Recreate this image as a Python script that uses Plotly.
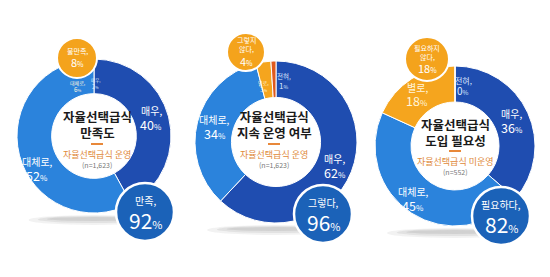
import math
import plotly.graph_objects as go

FONT = "Noto Sans CJK KR"

# ---- data ----
labels1 = ["매우", "대체로", "대체로", "매우"]
values1 = [40, 52, 6, 2]
labels2 = ["매우", "대체로", "별로", "전혀"]
values2 = [62, 34, 3, 1]
labels3 = ["매우", "대체로", "별로", "전혀"]
values3 = [36, 45, 18, 0]

titles = ["자율선택급식<br>만족도", "자율선택급식<br>지속 운영 여부", "자율선택급식<br>도입 필요성"]
subtitles = ["자율선택급식 운영", "자율선택급식 운영", "자율선택급식 미운영"]
samples = ["(n=1,623)", "(n=1,623)", "(n=552)"]
pos_labels = ["만족,", "그렇다,", "필요하다,"]
pos_values = [92, 96, 82]
neg_labels = [["불만족,"], ["그렇지", "않다,"], ["필요하지", "않다,"]]
neg_values = [8, 4, 18]

# ---- style ----
W, H = 550, 277
COLORS = ["#1f4db0", "#2b83dc", "#f5a51e", "#e05a1e"]
centers = [(94, 136, 77), (276, 142, 81), (455, 146, 80)]
text_centers = [(97, 125), (274, 125), (455, 132)]
pos_bub = [(145, 212, 29), (323, 214, 29), (501, 216, 29)]
neg_bub = [(77, 58, 20), (246, 52, 19), (427, 59, 22)]
lab_sizes = [[10, 10, 5, 4.5], [10, 10, 5, 6.5], [10, 10, 10, 8]]
lab_dx = [[0, -6, 0, 5], [0, 0, -4, 10], [0, -8, -4, 8]]
lab_rf = [[0.78, 0.78, 0.68, 0.68], [0.78, 0.78, 0.70, 0.76], [0.78, 0.78, 0.78, 0.76]]
lab_colors = ["white", "white", "#fff5dc", "#dce8ff"]

def px(x):
    return x / W

def py(y):
    return 1 - y / H

fig = go.Figure()
shapes = []
annotations = []

def ann(x, y, text, size, color, **kw):
    annotations.append(dict(x=px(x), y=py(y), xref="paper", yref="paper",
                            xanchor="center", yanchor="middle", text=text,
                            showarrow=False, font=dict(family=FONT, size=size, color=color), **kw))

def circle(cx, cy, r, fill, lc, lw, layer="above"):
    shapes.append(dict(type="circle", xref="paper", yref="paper",
                       x0=px(cx - r), x1=px(cx + r), y0=py(cy + r), y1=py(cy - r),
                       fillcolor=fill, line=dict(color=lc, width=lw), layer=layer))

for i, (labels, values) in enumerate([(labels1, values1), (labels2, values2), (labels3, values3)]):
    cx, cy, r = centers[i]
    for k, a in enumerate([0.08, 0.10, 0.12]):
        w = r * (0.85 - 0.12 * k)
        shapes.append(dict(type="circle", xref="paper", yref="paper",
                           x0=px(cx - w), x1=px(cx + w),
                           y0=py(cy + r + 12 - 2 * k), y1=py(cy + r + 2 + k),
                           fillcolor=f"rgba(90,90,90,{a})", line=dict(width=0), layer="below"))
    fig.add_trace(go.Pie(
        labels=labels, values=values, sort=False, direction="clockwise", rotation=0,
        hole=0.55, marker=dict(colors=COLORS, line=dict(color="white", width=1)),
        textinfo="none",
        domain=dict(x=[px(cx - r), px(cx + r)], y=[py(cy + r), py(cy - r)]),
        showlegend=False, hoverinfo="label+value",
    ))
    total = sum(values)
    cum = 0
    for j, (lab, v) in enumerate(zip(labels, values)):
        f = (cum + v / 2) / total
        cum += v
        th = 2 * math.pi * f
        rl = lab_rf[i][j] * r
        lx = cx + rl * math.sin(th) + lab_dx[i][j]
        ly = cy - rl * math.cos(th)
        s = lab_sizes[i][j]
        ann(lx, ly - 0.65 * s, f"{lab},", s, lab_colors[j])
        ann(lx, ly + 0.7 * s, f"{v}<span style='font-size:{s * 0.8:.1f}px'>%</span>",
            s * 1.25, lab_colors[j])
    tx, ty = text_centers[i]
    ann(tx, ty, f"<b>{titles[i]}</b>", 12.5, "#1a1a1a")
    shapes.append(dict(type="line", xref="paper", yref="paper",
                       x0=px(tx - 6), x1=px(tx + 6), y0=py(ty + 19), y1=py(ty + 19),
                       line=dict(color="#e8883a", width=2)))
    ann(tx, ty + 29, subtitles[i], 9, "#e0893a")
    ann(tx, ty + 40, samples[i], 7, "#777777")
    bx, by, br = pos_bub[i]
    circle(bx, by, br, "#1b62b8", "white", 2.5)
    ann(bx, by - 12, pos_labels[i], 10, "white")
    ann(bx, by + 8, f"{pos_values[i]}<span style='font-size:11px'>%</span>", 21, "white")
    bx, by, br = neg_bub[i]
    circle(bx, by, br, "#f4a31c", "white", 2)
    lines = neg_labels[i]
    n = len(lines)
    base = by - 7 - 4.5 * (n - 1)
    for k, t in enumerate(lines):
        ann(bx, base + 9 * k, t, 7, "white")
    ann(bx, base + 9 * n + 2.5, f"{neg_values[i]}<span style='font-size:7px'>%</span>", 11, "white")

fig.update_layout(width=W, height=H, margin=dict(l=0, r=0, t=0, b=0),
                  paper_bgcolor="white", plot_bgcolor="white",
                  shapes=shapes, annotations=annotations,
                  font=dict(family=FONT))
fig.write_html("out.html")
